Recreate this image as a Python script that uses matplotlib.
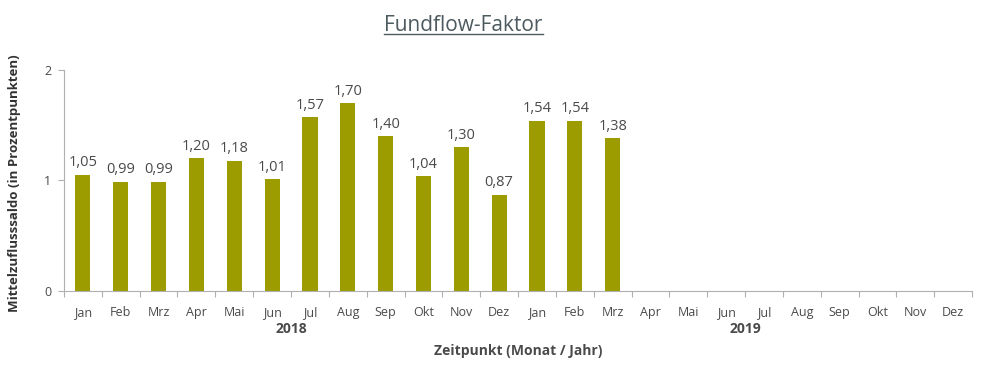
import numpy as np
import matplotlib.pyplot as plt
from matplotlib.lines import Line2D

plt.rcParams['font.family'] = ['Open Sans', 'DejaVu Sans']

# data
months = ["Jan", "Feb", "Mrz", "Apr", "Mai", "Jun", "Jul", "Aug", "Sep", "Okt", "Nov", "Dez"] * 2
years = ["2018", "2019"]
values = [1.05, 0.99, 0.99, 1.20, 1.18, 1.01, 1.57, 1.70, 1.40, 1.04, 1.30, 0.87,
          1.54, 1.54, 1.38]

bar_color = "#9c9c00"
text_color = "#4a4a4a"

fig = plt.figure(figsize=(9.9, 3.66), dpi=100)
ax = fig.add_axes([0.0646, 0.205, 0.9174, 0.604])

x = np.arange(len(values))
ax.bar(x, values, width=0.4, color=bar_color)
for xi, v in zip(x, values):
    ax.text(xi, v + 0.04, f"{v:.2f}".replace(".", ","), ha="center", va="bottom",
            fontsize=10.5, color=text_color)

ax.set_xlim(-0.5, len(months) - 0.5)
ax.set_ylim(0, 2)
ax.set_yticks([0, 1, 2])
ax.set_yticklabels(["0", "1", "2"])

# month labels in the middle, ticks on the boundaries
ax.set_xticks(np.arange(len(months) + 1) - 0.5)
ax.set_xticklabels([])
ax.set_xticks(np.arange(len(months)), minor=True)
ax.set_xticklabels(months, minor=True)
ax.tick_params(axis="x", which="minor", length=0, pad=11, labelsize=9, labelcolor=text_color)
ax.tick_params(axis="x", which="major", length=4, color="#b0b0b0")
ax.tick_params(axis="y", length=4, color="#b0b0b0", labelsize=9, labelcolor=text_color, pad=5)

for s in ["top", "right"]:
    ax.spines[s].set_visible(False)
ax.spines["left"].set_color("#b0b0b0")
ax.spines["bottom"].set_color("#b0b0b0")

# year labels
for i, yr in enumerate(years):
    ax.text(i * 12 + 5.5, -0.34, yr, ha="center", va="center", fontsize=10,
            fontweight="bold", color=text_color)

ax.text(0.5, -0.24, "Zeitpunkt (Monat / Jahr)", transform=ax.transAxes,
        ha="center", va="top", fontsize=10, fontweight="bold", color=text_color)

fig.text(0.015, 0.5, "Mittelzuflusssaldo (in Prozentpunkten)", rotation=90, ha="center",
         va="center", fontsize=9.5, fontweight="bold", color="#333333")

title = fig.text(0.468, 0.93, "Fundflow-Faktor", ha="center", va="center",
                 fontsize=15, color="#4d5a5f")

# underline the title
fig.canvas.draw()
bb = title.get_window_extent(fig.canvas.get_renderer()).transformed(fig.transFigure.inverted())
fig.add_artist(Line2D([bb.x0, bb.x1], [bb.y0 + 0.005, bb.y0 + 0.005],
                      transform=fig.transFigure, color="#4d5a5f", lw=1))

fig.savefig("out.png", dpi=100)
